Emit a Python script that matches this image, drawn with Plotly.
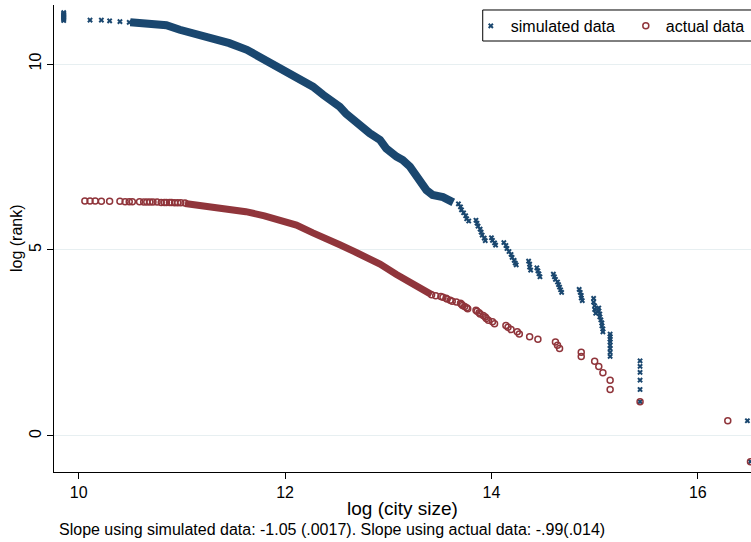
import plotly.graph_objects as go

# ---------------------------------------------------------------------------
# Simulated data: log city size against log rank
# ---------------------------------------------------------------------------
# smallest simulated cities (upper-left end, individually visible marks)
sim_head_size = [9.855, 9.855, 9.855, 9.855, 9.855, 9.855, 9.855, 9.855,
                 10.11, 10.22, 10.30, 10.40, 10.49]
sim_head_rank = [11.17, 11.20, 11.23, 11.26, 11.29, 11.32, 11.35, 11.38,
                 11.18, 11.18, 11.16, 11.14, 11.12]

# crowded body of the simulated distribution (centre of the band)
sim_body_size = [10.50, 10.70, 10.85, 10.98, 11.14, 11.30, 11.46, 11.63,
                 11.72, 11.82, 11.95, 12.05, 12.14, 12.21, 12.27, 12.37,
                 12.47, 12.53, 12.59, 12.66, 12.76, 12.82, 12.92, 12.98,
                 13.08, 13.14, 13.21, 13.27, 13.31, 13.37, 13.43, 13.53,
                 13.63]
sim_body_rank = [11.12, 11.08, 11.04, 10.92, 10.81, 10.69, 10.56, 10.38,
                 10.24, 10.11, 9.93, 9.75, 9.62, 9.48, 9.39, 9.17,
                 8.99, 8.85, 8.67, 8.49, 8.27, 8.14, 7.96, 7.73,
                 7.51, 7.42, 7.24, 7.02, 6.79, 6.61, 6.48, 6.42,
                 6.28]

# largest simulated cities (lower-right tail, ties stack vertically)
sim_tail_size = [
    13.68, 13.70, 13.71, 13.73, 13.75, 13.76, 13.78,
    13.85, 13.86, 13.87, 13.89, 13.90, 13.91, 13.93, 13.94,
    14.00, 14.01, 14.03, 14.04,
    14.12, 14.14, 14.15, 14.17, 14.19, 14.20, 14.22, 14.23, 14.24,
    14.36, 14.37, 14.37, 14.38,
    14.44, 14.45, 14.46, 14.47,
    14.60, 14.61, 14.62, 14.64, 14.65, 14.66, 14.67, 14.68,
    14.85, 14.86, 14.87, 14.87, 14.88,
    14.99, 14.99, 15.00, 15.00, 15.01,
    15.04, 15.04, 15.05, 15.05, 15.06, 15.07, 15.07, 15.08, 15.08,
    15.15, 15.15, 15.15, 15.15, 15.15, 15.15, 15.15, 15.15,
    15.44, 15.44, 15.44, 15.44, 15.44, 15.44,
    16.48, 16.51]
sim_tail_rank = [
    6.24, 6.16, 6.08, 6.00, 5.92, 5.84, 5.78,
    5.80, 5.72, 5.64, 5.56, 5.48, 5.40, 5.32, 5.25,
    5.33, 5.26, 5.19, 5.13,
    5.20, 5.12, 5.04, 4.96, 4.88, 4.80, 4.72, 4.65, 4.60,
    4.70, 4.62, 4.54, 4.46,
    4.52, 4.44, 4.36, 4.28,
    4.35, 4.28, 4.21, 4.14, 4.07, 4.00, 3.93, 3.86,
    3.94, 3.86, 3.78, 3.71, 3.64,
    3.70, 3.60, 3.50, 3.40, 3.30,
    3.44, 3.36, 3.28, 3.20, 3.12, 3.04, 2.96, 2.88, 2.80,
    2.74, 2.67, 2.60, 2.53, 2.44, 2.35, 2.25, 2.14,
    2.02, 1.87, 1.71, 1.50, 1.25, 0.92,
    0.41, -0.69]

# ---------------------------------------------------------------------------
# Actual data: log city size against log rank
# ---------------------------------------------------------------------------
act_head_size = [10.06, 10.11, 10.16, 10.22, 10.30, 10.40, 10.45, 10.49,
                 10.52, 10.59, 10.63, 10.66, 10.69, 10.72, 10.76, 10.80,
                 10.83, 10.85, 10.88, 10.90, 10.93, 10.96, 10.99, 11.03]
act_head_rank = [6.32, 6.32, 6.32, 6.31, 6.31, 6.31, 6.30, 6.30,
                 6.30, 6.30, 6.29, 6.29, 6.29, 6.29, 6.29, 6.28,
                 6.28, 6.28, 6.28, 6.28, 6.27, 6.27, 6.27, 6.26]

act_body_size = [11.03, 11.20, 11.30, 11.45, 11.62, 11.80, 11.95, 12.11,
                 12.27, 12.40, 12.53, 12.70, 12.92, 13.08, 13.24, 13.34,
                 13.42]
act_body_rank = [6.25, 6.19, 6.15, 6.10, 6.03, 5.92, 5.81, 5.67,
                 5.46, 5.32, 5.14, 4.92, 4.62, 4.34, 4.10, 3.90,
                 3.80]

act_tail_size = [13.42, 13.46, 13.51, 13.53, 13.56, 13.57, 13.60, 13.62,
                 13.66, 13.70, 13.71, 13.72, 13.74, 13.76, 13.77, 13.85,
                 13.86, 13.88, 13.89, 13.92, 13.94, 13.95, 13.97, 14.01,
                 14.03, 14.14, 14.16, 14.19, 14.25, 14.27, 14.37, 14.45,
                 14.62, 14.64, 14.66, 14.87, 14.87, 15.00, 15.04, 15.08,
                 15.15, 15.15, 15.44, 16.29, 16.51]
act_tail_rank = [3.80, 3.77, 3.75, 3.73, 3.70, 3.68, 3.65, 3.62,
                 3.60, 3.57, 3.54, 3.51, 3.48, 3.45, 3.42, 3.38,
                 3.35, 3.31, 3.28, 3.24, 3.20, 3.16, 3.11, 3.07,
                 3.02, 2.97, 2.92, 2.86, 2.80, 2.74, 2.67, 2.60,
                 2.53, 2.44, 2.35, 2.25, 2.14, 2.01, 1.87, 1.70,
                 1.50, 1.25, 0.92, 0.41, -0.69]

x_ticks = [10, 12, 14, 16]
y_ticks = [0, 5, 10]
note = ("Slope using simulated data: -1.05 (.0017). "
        "Slope using actual data: -.99(.014)")

NAVY = "#1a476f"
MAROON = "#90353b"
FONT = "Liberation Sans, Arial, Helvetica, sans-serif"

fig = go.Figure()

# simulated: dense band plus individual marks
fig.add_trace(go.Scatter(
    x=sim_body_size, y=sim_body_rank, mode="lines",
    line=dict(color=NAVY, width=8), showlegend=False, hoverinfo="skip"))
fig.add_trace(go.Scatter(
    x=sim_head_size + sim_tail_size, y=sim_head_rank + sim_tail_rank,
    mode="markers", name="simulated data",
    marker=dict(symbol="x", size=5, color=NAVY, line=dict(width=0))))

# actual: dense band plus hollow circles
fig.add_trace(go.Scatter(
    x=act_body_size, y=act_body_rank, mode="lines",
    line=dict(color=MAROON, width=7), showlegend=False, hoverinfo="skip"))
fig.add_trace(go.Scatter(
    x=act_head_size + act_tail_size, y=act_head_rank + act_tail_rank,
    mode="markers", name="actual data",
    marker=dict(symbol="circle-open", size=6, color=MAROON,
                line=dict(width=1.5, color=MAROON))))

fig.update_layout(
    width=751, height=542,
    margin=dict(l=54, r=0, t=5, b=70, autoexpand=False),
    paper_bgcolor="white", plot_bgcolor="white",
    font=dict(family=FONT, size=16, color="black"),
    legend=dict(orientation="h", x=0.598, y=0.9915,
                xanchor="left", yanchor="top",
                entrywidth=110, entrywidthmode="pixels",
                borderwidth=0, bgcolor="rgba(0,0,0,0)",
                font=dict(size=16)),
    # frame around the legend, running off the right edge
    shapes=[dict(type="rect", xref="paper", yref="paper",
                 x0=0.6151, x1=1.06, y0=0.9229, y1=0.9893,
                 line=dict(color="black", width=1), fillcolor="white",
                 layer="above")],
    annotations=[
        dict(text=note, xref="paper", yref="paper",
             x=0.004, y=-0.124, xanchor="left", yanchor="middle",
             showarrow=False, font=dict(size=16)),
        dict(text="log (rank)", xref="paper", yref="paper",
             x=-0.0538, y=0.5, xanchor="center", yanchor="middle",
             textangle=-90, showarrow=False, font=dict(size=16)),
    ],
)
fig.update_xaxes(
    range=[9.761, 16.515], tickvals=x_ticks, ticks="outside", ticklen=6,
    tickcolor="black", showline=True, linecolor="black", linewidth=1,
    showgrid=False, zeroline=False,
    title=dict(text="log (city size)", standoff=1))
fig.update_yaxes(
    range=[-0.968, 11.586], tickvals=y_ticks, ticks="outside", ticklen=6,
    tickcolor="black", tickangle=-90, showline=True, linecolor="black",
    linewidth=1, showgrid=True, gridcolor="#e7eff1", gridwidth=1,
    zeroline=False)

fig.write_html("out.html")
